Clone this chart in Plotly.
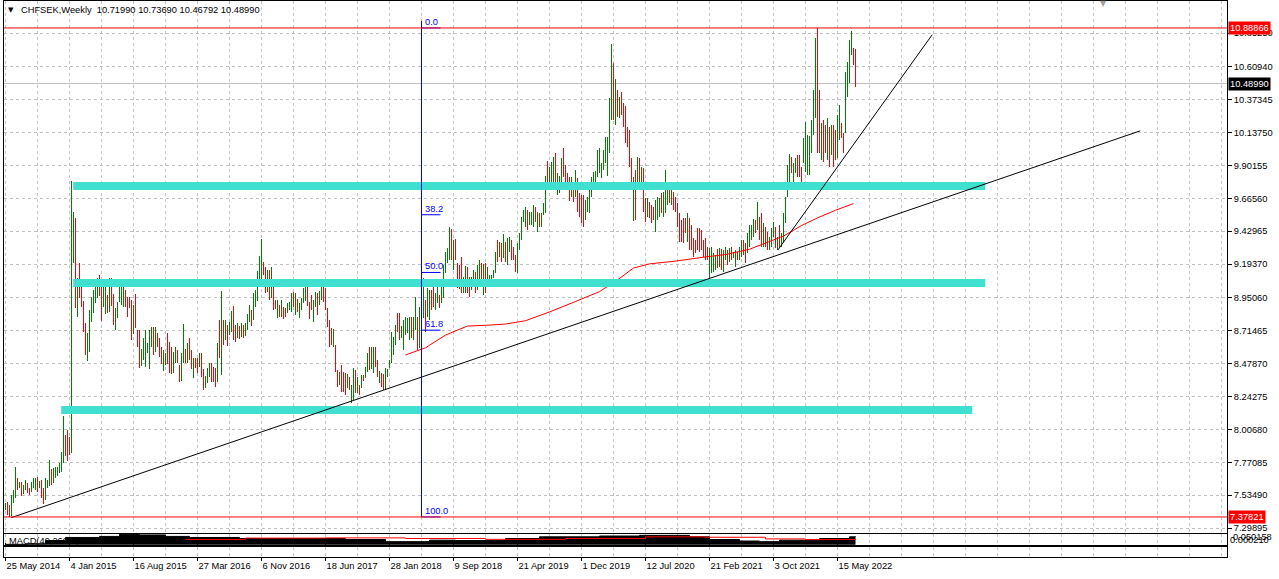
import plotly.graph_objects as go

# ---------------- data ----------------
symbol_text = "CHFSEK,Weekly"
last_ohlc = ["10.71990", "10.73690", "10.46792", "10.48990"]

date_labels = ["25 May 2014", "4 Jan 2015", "16 Aug 2015", "27 Mar 2016", "6 Nov 2016",
               "18 Jun 2017", "28 Jan 2018", "9 Sep 2018", "21 Apr 2019", "1 Dec 2019",
               "12 Jul 2020", "21 Feb 2021", "3 Oct 2021", "15 May 2022"]

price_labels = ["10.85250", "10.60940", "10.37345", "10.13750", "9.90155", "9.66560",
                "9.42965", "9.19370", "8.95060", "8.71465", "8.47870", "8.24275",
                "8.00680", "7.77085", "7.53490", "7.29895"]

high = [
    7.481, 7.488, 7.464, 7.536, 7.572, 7.734, 7.656, 7.632, 7.632, 7.608,
    7.644, 7.620, 7.584, 7.632, 7.656, 7.656, 7.667, 7.639, 7.644, 7.584,
    7.656, 7.644, 7.787, 7.720, 7.727, 7.739, 7.739, 7.763, 7.847, 8.103,
    7.967, 8.002, 7.955, 9.790, 9.570, 9.522, 9.091, 9.199, 9.043, 8.931,
    8.768, 8.696, 8.864, 8.960, 9.008, 9.031, 9.091, 9.115, 9.031, 9.043,
    9.055, 8.972, 9.091, 9.091, 8.979, 8.876, 8.924, 9.031, 9.036, 9.031,
    9.008, 8.955, 8.955, 8.936, 8.900, 8.979, 8.720, 8.720, 8.582, 8.661,
    8.720, 8.625, 8.720, 8.744, 8.744, 8.744, 8.696, 8.663, 8.601, 8.577,
    8.558, 8.701, 8.637, 8.601, 8.565, 8.601, 8.577, 8.469, 8.553, 8.763,
    8.582, 8.625, 8.661, 8.577, 8.517, 8.517, 8.517, 8.558, 8.553, 8.438,
    8.390, 8.445, 8.481, 8.481, 8.457,
    8.445, 8.625, 8.792, 9.003, 8.792, 8.792, 8.756, 8.780, 8.859, 8.893,
    8.756, 8.768, 8.749, 8.768, 8.756, 8.773, 8.835, 8.900, 8.864, 8.984,
    9.008, 9.146, 9.252, 9.376, 9.211, 9.175, 9.151, 9.151, 9.175, 9.055,
    8.936, 8.936, 8.900, 8.936, 8.883, 8.876, 8.912, 8.924, 8.988, 8.996,
    8.984, 8.940, 8.912, 8.948, 9.019, 9.036, 9.060, 8.924, 8.972, 8.936,
    8.996, 8.984, 9.003, 9.043, 9.031, 9.019, 8.876, 8.792, 8.732, 8.725,
    8.613, 8.433, 8.421, 8.469, 8.421, 8.409, 8.404, 8.385, 8.325, 8.445,
    8.433, 8.385, 8.325, 8.397, 8.397, 8.457, 8.553, 8.601, 8.601, 8.601,
    8.601, 8.505, 8.428, 8.409, 8.404, 8.445, 8.438, 8.505, 8.708, 8.672,
    8.756, 8.840, 8.845, 8.749, 8.792, 8.816, 8.804, 8.816, 8.816, 8.816,
    8.955, 8.816, 8.888, 9.103, 9.091, 8.936, 9.019, 9.008,
    9.007, 9.067, 8.984, 9.031, 8.972, 9.031, 9.187,
    9.283, 9.307, 9.462, 9.443, 9.366, 9.371, 9.199, 9.187, 9.247, 9.103,
    9.180, 9.175, 9.103, 9.103, 9.151, 9.139, 9.187, 9.223, 9.199, 9.192,
    9.199, 9.175, 9.115, 9.115, 9.151, 9.283, 9.366, 9.354, 9.342, 9.409,
    9.354, 9.378, 9.386, 9.366, 9.319, 9.259, 9.342, 9.414, 9.534, 9.582,
    9.606, 9.582, 9.570, 9.570, 9.618, 9.606, 9.570, 9.558, 9.563, 9.630,
    9.826, 9.936, 9.893, 9.929, 9.965, 9.993, 9.845, 9.826, 9.953, 10.024,
    9.905, 9.845, 9.821, 9.821, 9.749, 9.869, 9.809, 9.701, 9.689, 9.689,
    9.654, 9.678, 9.725, 9.821, 9.857, 9.864, 10.013, 10.024, 9.917, 10.013,
    10.103, 10.103, 10.383, 10.773, 10.635, 10.520, 10.443, 10.395, 10.431, 10.348,
    10.328, 10.180, 10.156, 9.953, 9.821, 9.869, 9.965, 9.953,
    9.893, 9.881,
    9.666, 9.666, 9.642, 9.618, 9.606, 9.654, 9.678, 9.666, 9.702, 9.709,
    9.869, 9.773, 9.773, 9.725, 9.714, 9.678, 9.630, 9.558, 9.510, 9.522,
    9.522, 9.563, 9.522, 9.474, 9.379, 9.367, 9.450, 9.450, 9.438, 9.367,
    9.379, 9.319, 9.307, 9.319, 9.271, 9.259, 9.300, 9.307, 9.300, 9.295,
    9.319, 9.295, 9.307, 9.319, 9.283, 9.295, 9.283, 9.319, 9.367, 9.367,
    9.343, 9.415, 9.474, 9.474, 9.515, 9.510, 9.642, 9.534, 9.558, 9.486,
    9.462, 9.426, 9.391, 9.450, 9.498, 9.462, 9.391, 9.474, 9.415, 9.558,
    9.678, 9.905, 9.982, 9.965, 9.917, 9.953, 9.977, 9.977, 9.893, 10.096,
    10.216, 10.120, 10.113, 10.228, 10.443, 10.814, 10.889, 10.443, 10.204, 10.228,
    10.192, 10.240, 10.180, 10.192, 10.192, 10.156, 10.264, 10.336, 10.204, 10.132,
    10.575, 10.647, 10.802, 10.870, 10.743, 10.737,
]

low = [
    7.428, 7.392, 7.378, 7.385, 7.481, 7.512, 7.572, 7.584, 7.529, 7.543,
    7.572, 7.548, 7.536, 7.560, 7.584, 7.572, 7.560, 7.584, 7.512, 7.471,
    7.500, 7.584, 7.600, 7.608, 7.624, 7.656, 7.672, 7.691, 7.703, 7.763,
    7.816, 7.782, 7.823, 7.835, 9.204, 8.876, 8.816, 8.948, 8.888, 8.708,
    8.541, 8.498, 8.565, 8.780, 8.840, 8.912, 8.948, 8.964, 8.787, 8.888,
    8.835, 8.840, 8.852, 8.893, 8.756, 8.720, 8.804, 8.924, 8.900, 8.888,
    8.888, 8.816, 8.876, 8.649, 8.692, 8.737, 8.601, 8.445, 8.462, 8.505,
    8.457, 8.553, 8.438, 8.601, 8.538, 8.565, 8.601, 8.529, 8.476, 8.428,
    8.469, 8.476, 8.409, 8.404, 8.409, 8.481, 8.481, 8.347, 8.354, 8.481,
    8.486, 8.481, 8.505, 8.438, 8.373, 8.445, 8.409, 8.457, 8.385, 8.290,
    8.302, 8.337, 8.385, 8.349, 8.349,
    8.313, 8.349, 8.517, 8.397, 8.613, 8.649, 8.605, 8.684, 8.708, 8.649,
    8.637, 8.660, 8.653, 8.672, 8.660, 8.677, 8.720, 8.780, 8.749, 8.792,
    8.888, 8.931, 9.084, 9.079, 9.115, 8.984, 8.996, 8.936, 8.948, 8.864,
    8.869, 8.804, 8.811, 8.816, 8.797, 8.811, 8.840, 8.864, 8.852, 8.888,
    8.828, 8.852, 8.809, 8.864, 8.917, 8.931, 8.893, 8.799, 8.864, 8.780,
    8.888, 8.828, 8.900, 8.936, 8.924, 8.864, 8.744, 8.601, 8.613, 8.601,
    8.421, 8.313, 8.325, 8.278, 8.278, 8.254, 8.302, 8.290, 8.199, 8.218,
    8.266, 8.266, 8.254, 8.302, 8.354, 8.373, 8.421, 8.433, 8.438, 8.409,
    8.457, 8.385, 8.337, 8.313, 8.290, 8.294, 8.385, 8.445, 8.481, 8.541,
    8.613, 8.708, 8.649, 8.660, 8.577, 8.684, 8.696, 8.649, 8.660, 8.649,
    8.720, 8.577, 8.589, 8.792, 8.804, 8.708, 8.816, 8.792,
    8.864, 8.888, 8.864, 8.912, 8.876, 8.912, 8.948,
    9.127, 9.199, 9.223, 9.223, 9.151, 9.223, 9.019, 9.012, 8.984, 8.984,
    8.988, 8.984, 8.960, 9.007, 9.055, 8.984, 9.007, 9.031, 9.055, 8.972,
    8.988, 9.031, 9.031, 9.067, 9.091, 9.132, 9.211, 9.247, 9.211, 9.235,
    9.211, 9.187, 9.283, 9.223, 9.223, 9.139, 9.127, 9.295, 9.366, 9.498,
    9.462, 9.438, 9.474, 9.474, 9.462, 9.498, 9.426, 9.462, 9.462, 9.546,
    9.558, 9.778, 9.730, 9.749, 9.785, 9.749, 9.689, 9.706, 9.773, 9.821,
    9.749, 9.737, 9.649, 9.678, 9.642, 9.678, 9.570, 9.534, 9.486, 9.462,
    9.510, 9.570, 9.558, 9.678, 9.737, 9.773, 9.821, 9.845, 9.809, 9.869,
    9.917, 9.826, 9.989, 10.228, 10.228, 10.192, 10.252, 10.240, 10.264, 10.180,
    10.060, 10.036, 9.888, 9.761, 9.505, 9.510, 9.749, 9.773,
    9.773, 9.570,
    9.498, 9.534, 9.522, 9.486, 9.510, 9.426, 9.510, 9.534, 9.558, 9.534,
    9.558, 9.618, 9.630, 9.618, 9.582, 9.570, 9.462, 9.355, 9.355, 9.343,
    9.415, 9.355, 9.295, 9.295, 9.247, 9.271, 9.295, 9.283, 9.295, 9.247,
    9.223, 9.223, 9.056, 9.127, 9.139, 9.151, 9.163, 9.175, 9.151, 9.139,
    9.223, 9.187, 9.211, 9.223, 9.235, 9.175, 9.223, 9.223, 9.247, 9.259,
    9.199, 9.271, 9.319, 9.367, 9.391, 9.415, 9.438, 9.367, 9.319, 9.319,
    9.319, 9.295, 9.295, 9.319, 9.391, 9.307, 9.295, 9.319, 9.319, 9.343,
    9.486, 9.678, 9.730, 9.845, 9.785, 9.845, 9.821, 9.821, 9.761, 9.917,
    9.857, 9.833, 9.833, 9.989, 10.120, 10.240, 9.989, 9.989, 9.941, 9.929,
    9.989, 9.941, 9.893, 9.977, 9.893, 9.941, 9.953, 10.085, 10.096, 9.989,
    10.132, 10.396, 10.491, 10.695, 10.623, 10.468,
]

# G = bullish bar, R = bearish bar
direction = list(
    "GRRGGGRGRG" "GRRGGGRGRR" "GGGRGGGGGG" "RRRGGRGRRR" "RGGGGGGRRG"
    "GRGRRGGGGG" "RRRRGRRRGG" "GGGGRGRRRG" "GRRRGGRRGG" "RGRRGRRGRR" "GGGRR"
    "RGRGRGRGGR" "RGRGRGGGRG" "GGGGRRGRGR" "RGRGRRGGGR" "GRGGGGRRRG"
    "GRGGRRRRRG" "RRGRRRGRGG" "RGRGRGGRGG" "RRGRRGGGGG" "GRRGGGGGRG" "GRGGG"
    "RGG"
    "RRGGRGG" "GGGRGRRRRG" "GRRGGRGGRG" "RGGGGGRGRG" "RGGRRRGGGG"
    "GRGGGRGRGG" "GRGGGRGGGR" "RRRGRGRRRR" "GGGGGGGGGG" "GGGGRGRGRR" "RRRRGRGR"
    "GR"
    "RGRRRGGGRG" "GGRGRRRRRR" "RGRRRRRRRR" "RRGGGGRGRG" "GRGRGGRGGR"
    "RGGGGRGRRG" "RRGGGRGRGG" "GGGRGGRRRG" "GGGGGGRRGR" "RGRGRRGGRR" "GGGGRR"
)

# 200-week moving average (bar index -> price)
ma_bar = [200, 210, 220, 231, 240, 250, 260, 272, 285, 297, 306, 314, 322, 335,
          350, 360, 372, 380, 389, 398, 406, 415, 424]
ma_val = [8.541, 8.593, 8.684, 8.749, 8.754, 8.763, 8.787, 8.850, 8.925, 8.996,
          9.080, 9.165, 9.195, 9.215, 9.245, 9.262, 9.300, 9.345, 9.395, 9.470,
          9.525, 9.580, 9.628]

# support / resistance zones (price, first bar, last bar)
zone_price = [9.755, 9.058, 8.146]
zone_from = [33.85, 33.85, 27.85]
zone_to = [489.85, 489.85, 483.35]

# trend lines (bar, price) anchors
trend_long_bar = [2.85, 567.35]
trend_long_val = [7.373, 10.150]
trend_steep_bar = [386.2, 463.35]
trend_steep_val = [9.295, 10.840]

# Fibonacci retracement
fib_bar = 208
fib_high = 10.88866
fib_low = 7.37821
fib_levels = ["0.0", "38.2", "50.0", "61.8", "100.0"]
bid = 10.48990

# MACD sub-window (approximate reading)
macd_bar = [0, 11, 20, 30, 47, 57, 67, 80, 92, 117, 157, 170, 190, 212, 225,
            250, 267, 297, 317, 342, 352, 367, 377, 387, 407, 422, 425]
macd_val = [0.002, 0.005, 0.020, 0.035, 0.040, 0.050, 0.047, 0.040, 0.035, 0.030,
            0.030, 0.025, 0.015, 0.022, 0.020, 0.030, 0.038, 0.042, 0.045, 0.038,
            0.025, 0.018, 0.015, 0.022, 0.030, 0.038, 0.040]
signal_bar = [90, 120, 160, 200, 240, 280, 320, 350, 380, 400, 425]
signal_val = [0.025, 0.032, 0.033, 0.030, 0.026, 0.030, 0.038, 0.036, 0.028, 0.025, 0.027]

# ---------------- geometry ----------------
W, H = 1279, 579
ML, MR, MT, MB = 4, 52, 1, 22
PH = H - MT - MB               # plot-area height in px
PW = W - ML - MR
main_top, main_bot = 1, 533
macd_top, macd_bot = 534, 545
sub_top, sub_bot = 546.5, 557
px_per_unit = (10.85250 - 7.29895) / (528 - 33)
y_top = 10.85250 + (33 - main_top) * px_per_unit
y_bot = 7.29895 - (main_bot - 528) * px_per_unit


def dom(top, bot):
    return [(H - MB - bot) / PH, (H - MB - top) / PH]


def xp(px):
    return (px - ML) / PW


def yp(px):
    return (H - MB - px) / PH


FONT = "Liberation Sans, Arial, sans-serif"
FS = 9.3
GREEN = "#008000"
RED = "#ff0000"
GRID = "#c0c0c0"

n = len(high)
assert len(low) == n and len(direction) == n, (len(high), len(low), len(direction))

fig = go.Figure()

# bars as 1-px high-low columns
fig.add_trace(go.Bar(
    x=list(range(n)), y=[h - l for h, l in zip(high, low)], base=low, width=0.5,
    marker=dict(color=[GREEN if d == "G" else RED for d in direction], line=dict(width=0)),
    hoverinfo="skip", showlegend=False))

# moving average
fig.add_trace(go.Scatter(x=ma_bar, y=ma_val, mode="lines", line=dict(color=RED, width=1),
                         showlegend=False, hoverinfo="skip"))

# zones
for p, a, b in zip(zone_price, zone_from, zone_to):
    fig.add_trace(go.Scatter(x=[a, b], y=[p, p], mode="lines",
                             line=dict(color="#40e0d0", width=8), showlegend=False,
                             hoverinfo="skip"))

# trend lines
fig.add_trace(go.Scatter(x=trend_long_bar, y=trend_long_val, mode="lines",
                         line=dict(color="black", width=1), showlegend=False, hoverinfo="skip"))
fig.add_trace(go.Scatter(x=trend_steep_bar, y=trend_steep_val, mode="lines",
                         line=dict(color="black", width=1), showlegend=False, hoverinfo="skip"))

# Fibonacci
fig.add_trace(go.Scatter(x=[fib_bar, fib_bar], y=[fib_low, fib_high + 0.05], mode="lines",
                         line=dict(color="#0000ff", width=1), showlegend=False, hoverinfo="skip"))
for lv in fib_levels:
    price = fib_high - float(lv) / 100 * (fib_high - fib_low)
    fig.add_trace(go.Scatter(x=[fib_bar, fib_bar + 9.5], y=[price, price], mode="lines",
                             line=dict(color="#0000ff", width=1), showlegend=False,
                             hoverinfo="skip"))
    fig.add_annotation(x=fib_bar + 0.5, y=price, xref="x", yref="y", text=lv,
                       showarrow=False, xanchor="left", yanchor="bottom",
                       font=dict(family=FONT, size=FS, color="#0000ff"), yshift=-1)

# MACD
fig.add_trace(go.Scatter(x=macd_bar, y=macd_val, mode="lines", line=dict(color="black", width=1, shape="hv"),
                         fill="tozeroy", fillcolor="black", yaxis="y2", showlegend=False,
                         hoverinfo="skip"))
fig.add_trace(go.Scatter(x=signal_bar, y=signal_val, mode="lines", line=dict(color=RED, width=1, shape="hv"),
                         yaxis="y2", showlegend=False, hoverinfo="skip"))
# empty third pane keeps its frame
fig.add_trace(go.Scatter(x=[0], y=[0.5], mode="markers", marker=dict(opacity=0),
                         yaxis="y3", showlegend=False, hoverinfo="skip"))

# horizontal lines
fig.add_shape(type="line", xref="paper", x0=0, x1=1, yref="y", y0=fib_high, y1=fib_high,
              line=dict(color=RED, width=1))
fig.add_shape(type="line", xref="paper", x0=0, x1=1, yref="y", y0=fib_low, y1=fib_low,
              line=dict(color=RED, width=1))
fig.add_shape(type="line", xref="paper", x0=0, x1=1, yref="y", y0=bid, y1=bid,
              line=dict(color="#c0c0c0", width=1), layer="below")

# price axis boxes
for val, bg in ((fib_high, RED), (fib_low, RED), (bid, "black")):
    fig.add_annotation(xref="paper", x=1, xshift=1, yref="y", y=val, text=f"{val:.5f}",
                       showarrow=False, xanchor="left", yanchor="middle", bgcolor=bg,
                       borderpad=1, font=dict(family=FONT, size=FS, color="white"))

# header
fig.add_annotation(xref="paper", yref="paper", x=xp(6), y=yp(10), text="▼", showarrow=False,
                   xanchor="left", yanchor="middle", font=dict(family="DejaVu Sans", size=7, color="black"))
fig.add_annotation(xref="paper", yref="paper", x=xp(19), y=yp(10),
                   text=symbol_text + "  " + " ".join(last_ohlc), showarrow=False,
                   xanchor="left", yanchor="middle", font=dict(family=FONT, size=FS, color="black"))
fig.add_annotation(xref="paper", yref="paper", x=xp(1103), y=yp(4), text="▼", showarrow=False,
                   xanchor="center", yanchor="middle", font=dict(family="DejaVu Sans", size=8, color="#a0a0a0"))

# MACD labels
fig.add_annotation(xref="paper", yref="paper", x=xp(7), y=yp(541), text="MACD(49,260,9)",
                   showarrow=False, xanchor="left", yanchor="middle",
                   font=dict(family=FONT, size=FS, color="black"))
fig.add_annotation(xref="paper", yref="paper", x=1, xshift=4, y=yp(537), text="0.050158",
                   showarrow=False, xanchor="left", yanchor="middle",
                   font=dict(family=FONT, size=FS, color="black"))
fig.add_annotation(xref="paper", yref="paper", x=1, xshift=1, y=yp(540), text="0.000210",
                   showarrow=False, xanchor="left", yanchor="middle",
                   font=dict(family=FONT, size=FS, color="black"))

label_ticks = [32 * k for k in range(len(date_labels))]
grid_ticks = list(range(0, 609, 16))

axis_common = dict(showline=True, linecolor="black", linewidth=1, mirror=True,
                   zeroline=False, gridcolor=GRID, griddash="3px,3px", gridwidth=1,
                   automargin=False)

fig.update_layout(
    width=W, height=H, margin=dict(l=ML, r=MR, t=MT, b=MB, autoexpand=False),
    paper_bgcolor="white", plot_bgcolor="white",
    showlegend=False, bargap=0,
    xaxis=dict(range=[-0.75, 610.75], tickmode="array", tickvals=label_ticks, ticktext=date_labels,
               ticks="outside", ticklen=3, tickcolor="black", anchor="y3",
               ticklabelposition="outside right", showgrid=True, automargin=False,
               tickfont=dict(family=FONT, size=FS, color="black"),
               minor=dict(tickmode="array", tickvals=grid_ticks, showgrid=True, ticks="",
                          gridcolor=GRID, griddash="3px,3px", gridwidth=1),
               showline=True, linecolor="black", mirror="all", zeroline=False,
               gridcolor=GRID, griddash="3px,3px"),
    yaxis=dict(domain=dom(main_top, main_bot), range=[y_bot, y_top], side="right",
               tickmode="array", tickvals=[float(s) for s in price_labels], ticktext=price_labels,
               ticks="outside", ticklen=4, tickcolor="black", showgrid=True,
               tickfont=dict(family=FONT, size=FS, color="black"), anchor="x", **axis_common),
    yaxis2=dict(domain=dom(macd_top, macd_bot), range=[-0.001, 0.0515], side="right",
                showticklabels=False, showgrid=False, ticks="", anchor="x", **axis_common),
    yaxis3=dict(domain=dom(sub_top, sub_bot), range=[0, 1], side="right",
                showticklabels=False, showgrid=False, ticks="", anchor="x", **axis_common),
)

fig.write_html("out.html", config={"displayModeBar": False},
               post_script="document.body.style.margin='0px';document.body.style.overflow='hidden';")
